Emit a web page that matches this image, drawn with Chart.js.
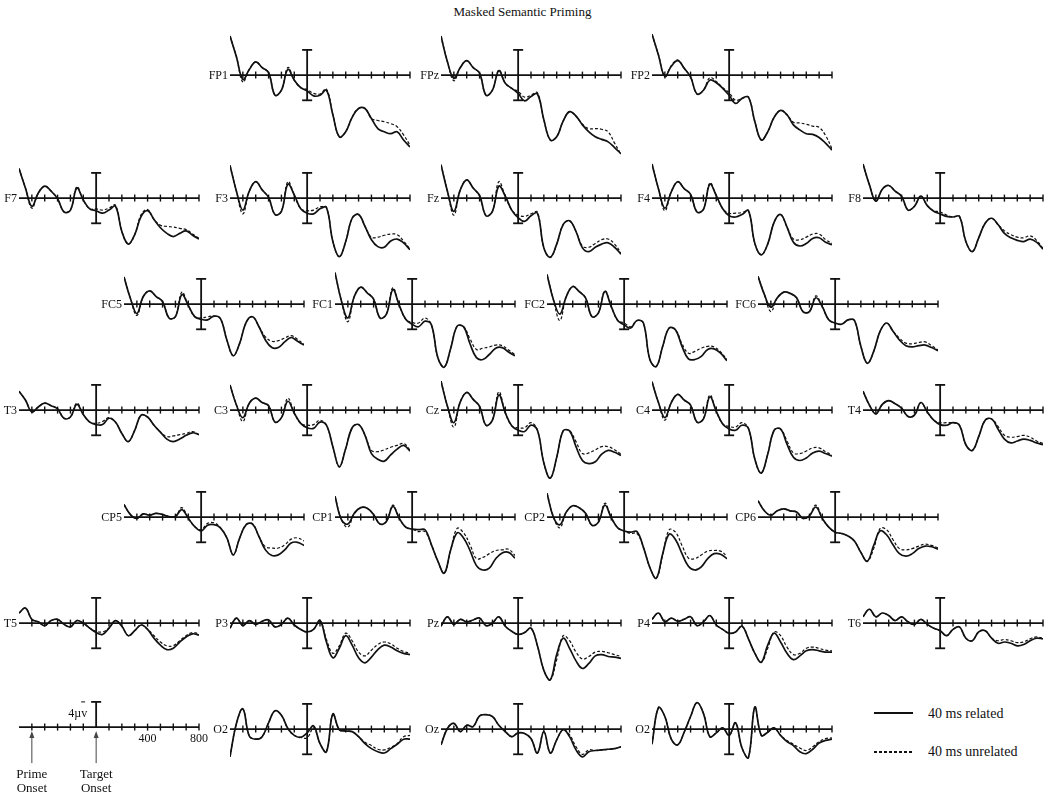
<!DOCTYPE html>
<html>
<head>
<meta charset="utf-8">
<script src="https://cdn.jsdelivr.net/npm/chart.js@4.4.1/dist/chart.umd.min.js"></script>
<style>
  html, body { margin: 0; padding: 0; background: #fff; }
  #page { position: relative; width: 1050px; height: 793px; overflow: hidden;
          font-family: "Liberation Serif", "DejaVu Serif", serif; color: #111; }
  #page canvas { position: absolute; }
  .lbl { position: absolute; width: 40px; font-size: 12px; line-height: 12px;
         text-align: right; white-space: nowrap; }
  #title { position: absolute; left: 0; width: 1045px; top: 4px; text-align: center; font-size: 13px; }
  .key { position: absolute; font-size: 14px; line-height: 14px; white-space: nowrap; }
  .swatch { position: absolute; width: 39px; height: 0; }
</style>
</head>
<body>
<div id="page">
  <div id="title">Masked Semantic Priming</div>
  <div class="swatch" style="left:874px; top:712px; border-top:2px solid #111;"></div>
  <div class="key" style="left:928px; top:707px;">40 ms related</div>
  <div class="swatch" style="left:874px; top:751px; height:1.5px;
       background:repeating-linear-gradient(90deg,#111 0 3px,transparent 3px 5px);"></div>
  <div class="key" style="left:928px; top:745px;">40 ms unrelated</div>
</div>
<script>
// sample times (ms) and axis ticks
const TIMES = [-600, -550, -500, -450, -400, -350, -300, -250, -200, -150, -100, -50, 0, 50, 100,
  150, 200, 250, 300, 350, 400, 450, 500, 550, 600, 650, 700, 750, 800];
const TICKS = [-500, -400, -300, -200, -100, 100, 200, 300, 400, 500, 600, 700, 800];
const SCALE_LABELS = [400, 800];
const BAR_UV = 4;

// amplitudes in microvolts, one value per sample time
const fp1Related = [6.2, 2.9, -0.7, 0.9, 2.1, 1.2, 0.4, -3.2, -2.4, 0.9, -0.8, -2.0, -2.5, -3.3, -3.2, -2.4, -6.3, -9.8, -9.0, -6.7, -5.3, -5.3, -6.9, -8.5, -9.0, -9.3, -9.0, -10.3, -11.4];
const fp1Unrelated = [6.2, 2.9, -1.1, 0.9, 2.1, 1.2, 0.4, -3.2, -2.4, 1.2, -0.8, -2.0, -2.3, -2.9, -3.0, -2.2, -6.3, -9.8, -9.0, -6.7, -5.3, -5.3, -6.9, -7.2, -7.4, -7.7, -8.2, -9.5, -11.1];
const fpzRelated = [6.2, 2.1, -0.5, 1.2, 2.3, 1.2, 0.3, -3.2, -2.4, 0.7, -1.3, -2.1, -2.9, -4.1, -3.4, -3.0, -7.1, -10.3, -9.8, -7.3, -5.8, -6.5, -7.9, -9.0, -9.8, -10.2, -10.6, -11.5, -12.5];
const fpzUnrelated = [6.2, 2.1, -0.9, 1.2, 2.3, 1.2, 0.3, -3.2, -2.4, 0.8, -1.3, -2.1, -2.6, -3.5, -3.2, -2.8, -7.1, -10.3, -9.8, -7.3, -5.8, -6.5, -7.8, -8.5, -8.5, -8.6, -9.0, -10.8, -12.6];
const fp2Related = [6.5, 3.2, -0.2, 1.4, 2.3, 1.1, -0.3, -3.0, -2.4, -0.8, -1.2, -2.1, -3.2, -4.5, -3.7, -3.5, -7.4, -10.3, -9.0, -6.7, -5.6, -6.3, -7.9, -8.7, -9.3, -9.4, -9.9, -10.8, -11.9];
const fp2Unrelated = [6.5, 3.2, -0.2, 1.5, 2.4, 1.1, -0.3, -3.0, -2.4, -0.4, -1.0, -2.0, -2.8, -4.0, -3.7, -3.5, -7.4, -10.3, -9.0, -6.7, -5.6, -6.3, -7.5, -7.6, -7.8, -8.1, -8.3, -9.6, -11.7];

const f7Related = [4.7, 1.6, -1.3, 0.8, 1.9, 1.1, -0.1, -2.2, -1.9, 1.6, -0.3, -1.7, -2.0, -2.4, -1.9, -1.3, -5.3, -7.3, -5.8, -2.9, -2.0, -3.4, -4.7, -5.6, -6.1, -5.6, -5.2, -5.9, -6.5];
const f7Unrelated = [4.7, 1.6, -1.6, 0.8, 1.9, 1.1, -0.1, -2.2, -1.9, 1.8, -0.3, -1.7, -1.7, -1.9, -1.6, -1.1, -5.3, -7.3, -5.8, -2.6, -1.8, -3.4, -4.3, -4.5, -4.6, -4.8, -5.0, -5.7, -6.4];
const f3Related = [5.2, 1.1, -1.9, 1.1, 2.6, 1.3, 0.1, -2.6, -2.1, 2.2, 0.5, -1.7, -2.4, -2.5, -1.7, -1.5, -6.9, -9.3, -6.9, -3.2, -2.6, -4.5, -6.6, -7.7, -7.8, -6.8, -6.5, -7.1, -8.2];
const f3Unrelated = [5.2, 1.1, -2.5, 1.1, 2.6, 1.3, 0.1, -2.6, -2.1, 2.6, 0.5, -1.7, -2.0, -1.9, -1.4, -1.5, -6.9, -9.3, -6.9, -3.2, -2.6, -4.5, -6.2, -6.2, -5.9, -5.7, -5.8, -6.8, -8.1];
const fzRelated = [5.3, 1.1, -2.1, 1.3, 2.9, 1.6, 0.4, -2.8, -2.1, 1.9, 0.3, -1.9, -3.1, -3.7, -2.8, -2.4, -7.9, -9.4, -7.3, -4.2, -3.6, -5.3, -7.9, -8.5, -7.8, -7.3, -7.1, -7.8, -8.9];
const fzUnrelated = [5.3, 1.1, -2.7, 1.3, 2.9, 1.6, 0.4, -2.8, -2.1, 2.6, 0.3, -1.9, -2.7, -2.9, -2.5, -2.2, -7.9, -9.4, -7.3, -4.2, -3.6, -5.3, -7.6, -7.8, -7.2, -6.6, -6.5, -7.3, -8.7];
const f4Related = [5.4, 1.5, -1.6, 1.0, 2.6, 1.5, 0.6, -2.2, -1.8, 2.2, 0.4, -1.7, -2.8, -3.0, -2.6, -2.0, -7.2, -9.0, -7.3, -3.8, -2.6, -4.6, -7.0, -7.6, -7.2, -6.4, -6.3, -7.0, -7.4];
const f4Unrelated = [5.4, 1.5, -2.0, 1.0, 2.6, 1.5, 0.6, -2.2, -1.8, 2.4, 0.4, -1.7, -2.4, -2.4, -2.3, -2.0, -7.2, -9.0, -7.3, -3.8, -2.6, -4.6, -6.5, -6.6, -6.2, -5.7, -5.7, -6.6, -7.2];
const f8Related = [5.4, 2.1, -0.5, 1.4, 2.0, 1.1, 0.3, -1.9, -1.3, 0.3, -1.2, -2.1, -2.5, -2.9, -3.0, -2.9, -6.9, -8.5, -6.3, -4.0, -3.2, -4.2, -5.6, -6.3, -6.7, -6.9, -6.5, -7.0, -8.1];
const f8Unrelated = [5.4, 2.1, -0.5, 1.4, 2.0, 1.1, 0.3, -1.9, -1.3, 0.3, -1.2, -2.0, -2.2, -2.7, -3.0, -2.9, -6.9, -8.5, -6.3, -4.0, -3.2, -4.2, -5.2, -5.8, -6.2, -6.3, -6.0, -6.7, -8.0];

const fc5Related = [4.3, 0.9, -1.5, 1.2, 2.1, 1.2, 0.4, -2.2, -2.0, 1.5, -0.2, -2.0, -2.4, -2.5, -1.9, -2.3, -5.7, -8.2, -6.2, -2.9, -2.0, -3.6, -5.7, -6.9, -6.9, -6.0, -5.3, -5.9, -6.5];
const fc5Unrelated = [4.3, 0.9, -1.8, 1.2, 2.1, 1.2, 0.4, -2.2, -2.0, 1.9, -0.2, -2.0, -2.2, -2.0, -1.9, -2.3, -5.7, -8.2, -6.2, -2.9, -2.0, -3.6, -5.2, -5.9, -5.8, -5.4, -5.0, -5.6, -6.4];
const fc1Related = [5.0, 0.5, -2.2, 1.2, 2.7, 1.8, 0.8, -2.2, -1.6, 2.3, -0.2, -2.4, -3.2, -3.6, -2.7, -3.3, -8.5, -10.0, -7.0, -3.5, -3.6, -6.3, -8.5, -8.8, -8.0, -7.0, -6.9, -7.6, -8.2];
const fc1Unrelated = [5.0, 0.5, -2.8, 1.2, 2.7, 1.8, 0.8, -2.2, -1.6, 2.6, -0.2, -2.4, -2.9, -3.0, -2.2, -3.3, -8.5, -10.0, -7.0, -3.5, -3.6, -5.5, -7.2, -7.0, -6.8, -6.5, -6.6, -7.3, -8.0];
const fc2Related = [4.7, 0.7, -1.6, 1.2, 2.8, 2.0, 1.0, -2.0, -1.4, 2.0, -0.4, -2.6, -3.3, -3.8, -2.6, -3.0, -8.8, -9.9, -6.7, -3.8, -4.1, -6.7, -8.7, -8.8, -8.3, -7.2, -7.1, -7.8, -9.0];
const fc2Unrelated = [4.7, 0.7, -2.6, 1.2, 2.8, 2.0, 1.0, -2.0, -1.4, 2.1, -0.4, -2.6, -3.0, -3.6, -2.6, -3.0, -8.8, -9.9, -6.7, -3.8, -4.1, -6.3, -7.8, -7.5, -7.0, -6.7, -6.8, -7.6, -8.8];
const fc6Related = [4.4, 1.5, -0.5, 1.0, 1.9, 1.7, 1.0, -1.2, -1.2, 1.0, -0.4, -2.5, -3.0, -3.2, -2.5, -2.6, -6.7, -9.4, -7.5, -4.3, -3.0, -4.3, -5.7, -6.6, -6.8, -6.6, -6.5, -6.9, -7.4];
const fc6Unrelated = [4.4, 1.5, -1.2, 1.0, 1.9, 1.7, 1.0, -1.2, -1.2, 1.3, -0.4, -2.5, -3.0, -3.2, -2.5, -2.6, -6.7, -9.4, -7.5, -4.3, -3.0, -4.3, -5.4, -6.2, -6.3, -6.1, -6.0, -6.6, -7.3];

const t3Related = [3.0, 1.6, -0.3, 0.5, 1.1, 0.7, 0.2, -1.3, -1.1, 0.9, -0.7, -1.9, -2.3, -2.3, -1.3, -1.9, -3.7, -5.0, -3.2, -0.8, -1.1, -2.4, -3.5, -4.6, -5.0, -4.6, -4.0, -3.6, -3.9];
const t3Unrelated = [3.0, 1.6, -0.3, 0.5, 1.1, 0.7, 0.2, -1.3, -1.1, 1.1, -0.7, -1.9, -2.1, -1.8, -1.2, -1.9, -3.7, -5.0, -3.2, -0.8, -1.1, -2.4, -3.5, -4.2, -4.1, -3.9, -3.7, -3.4, -3.9];
const c3Related = [4.0, 0.8, -1.2, 1.1, 1.9, 1.2, 0.7, -1.9, -1.2, 1.4, -0.5, -2.1, -2.8, -2.9, -1.9, -2.4, -5.8, -9.0, -6.1, -2.8, -2.3, -4.0, -6.9, -7.8, -8.1, -7.1, -6.2, -5.6, -6.5];
const c3Unrelated = [4.0, 0.8, -1.8, 1.1, 1.9, 1.2, 0.7, -1.9, -1.2, 1.9, -0.5, -2.1, -2.4, -2.3, -1.6, -2.4, -5.8, -9.0, -6.1, -2.8, -2.3, -4.0, -6.4, -6.6, -6.3, -5.9, -5.6, -5.3, -6.3];
const czRelated = [4.6, 0.6, -2.0, 1.3, 2.8, 1.7, 0.6, -2.4, -1.6, 2.4, -0.4, -2.5, -3.2, -3.4, -2.4, -3.2, -8.4, -10.8, -7.5, -3.3, -3.3, -5.8, -8.0, -8.5, -8.2, -7.0, -6.4, -6.7, -7.2];
const czUnrelated = [4.6, 0.6, -2.7, 1.3, 2.8, 1.7, 0.6, -2.4, -1.6, 2.9, -0.4, -2.5, -2.8, -2.8, -2.0, -3.2, -8.4, -10.8, -7.5, -3.3, -3.3, -5.0, -6.9, -6.8, -6.3, -5.8, -5.8, -6.3, -7.0];
const c4Related = [4.5, 1.2, -1.2, 1.2, 2.5, 1.6, 0.8, -1.9, -1.4, 2.1, -0.2, -2.2, -3.0, -3.2, -2.4, -2.9, -7.8, -10.0, -7.0, -3.2, -3.0, -5.4, -7.5, -8.0, -7.6, -6.8, -6.5, -6.9, -7.3];
const c4Unrelated = [4.5, 1.2, -1.6, 1.2, 2.5, 1.6, 0.8, -1.9, -1.4, 2.4, -0.2, -2.2, -2.6, -2.7, -2.0, -2.9, -7.8, -10.0, -7.0, -3.2, -3.0, -4.9, -6.8, -6.9, -6.5, -6.0, -6.0, -6.6, -7.1];
const t4Related = [3.0, 0.8, -0.6, 0.9, 1.5, 1.0, 0.3, -1.0, -0.8, 1.2, -0.3, -1.6, -2.3, -2.4, -2.0, -2.4, -5.5, -6.4, -4.2, -1.6, -1.4, -3.0, -4.6, -5.2, -4.9, -4.6, -4.8, -5.2, -5.5];
const t4Unrelated = [3.0, 0.8, -0.6, 0.9, 1.5, 1.0, 0.3, -1.0, -0.8, 1.2, -0.3, -1.6, -2.0, -2.0, -2.0, -2.4, -5.5, -6.4, -4.2, -1.6, -1.4, -2.6, -4.0, -4.3, -4.2, -4.0, -4.3, -4.9, -5.3];

const cp5Related = [2.0, 0.4, -0.2, 0.5, 0.3, 0.6, 0.4, 0.1, 0.1, 1.2, -0.2, -1.5, -2.2, -1.3, -1.2, -1.7, -3.3, -6.0, -3.3, -1.2, -1.1, -3.1, -5.2, -6.1, -6.0, -5.2, -4.1, -4.0, -4.5];
const cp5Unrelated = [2.0, 0.4, -0.2, 0.5, 0.3, 0.6, 0.4, 0.1, 0.1, 1.5, -0.2, -1.5, -2.0, -1.0, -0.9, -1.7, -3.3, -6.0, -3.3, -1.2, -1.1, -3.1, -4.7, -4.9, -4.9, -4.4, -3.5, -3.3, -3.8];
const cp1Related = [3.3, -0.4, -1.1, 0.6, 1.5, 1.4, 0.4, -1.1, -0.7, 1.7, -0.2, -1.6, -1.9, -2.0, -2.0, -4.4, -7.0, -8.9, -5.2, -2.5, -3.3, -5.3, -7.7, -8.4, -8.1, -6.6, -5.7, -5.6, -6.5];
const cp1Unrelated = [3.3, -0.4, -1.6, 0.6, 1.5, 1.4, 0.4, -1.1, -0.7, 1.9, -0.2, -1.6, -1.9, -2.3, -2.3, -4.4, -7.0, -8.9, -5.2, -1.8, -2.5, -4.4, -6.6, -6.4, -5.8, -5.3, -5.2, -5.1, -6.1];
const cp2Related = [3.8, 0.0, -1.2, 0.8, 1.8, 1.5, 0.6, -1.3, -0.8, 1.9, -0.1, -1.7, -2.2, -2.4, -2.3, -4.8, -8.0, -9.7, -5.8, -2.7, -3.6, -5.8, -7.8, -8.4, -7.9, -6.6, -5.8, -5.9, -6.6];
const cp2Unrelated = [3.8, 0.0, -1.7, 0.8, 1.8, 1.5, 0.6, -1.3, -0.8, 2.2, -0.1, -1.7, -2.2, -2.6, -2.6, -4.8, -8.0, -9.7, -6.0, -2.0, -2.4, -4.5, -6.5, -6.6, -6.0, -5.4, -5.3, -5.4, -6.2];
const cp6Related = [2.6, 1.0, 0.3, 1.0, 1.3, 1.0, 0.8, -0.2, 0.2, 1.6, -0.2, -1.6, -2.4, -2.6, -3.0, -3.8, -5.6, -7.0, -4.5, -2.2, -2.8, -4.4, -5.8, -6.2, -5.8, -5.0, -4.6, -4.7, -5.1];
const cp6Unrelated = [2.6, 1.0, 0.3, 1.0, 1.3, 1.0, 0.8, -0.2, 0.2, 1.9, -0.2, -1.6, -2.4, -2.6, -3.0, -3.8, -5.6, -7.0, -5.0, -1.8, -2.0, -3.6, -5.0, -5.2, -5.0, -4.6, -4.3, -4.5, -4.9];

const t5Related = [1.6, 2.4, 0.6, 0.2, -0.4, 0.4, 0.6, -0.2, -0.6, 0.4, 0.0, -0.8, -1.5, -1.8, -0.8, 0.4, -0.5, -2.0, -1.2, -0.3, -1.0, -2.4, -3.5, -4.2, -4.0, -3.0, -2.2, -1.7, -1.9];
const t5Unrelated = [1.6, 2.4, 0.6, 0.2, -0.4, 0.4, 0.6, -0.2, -0.6, 0.4, 0.0, -0.8, -1.3, -1.4, -0.8, 0.4, -0.5, -2.0, -1.2, -0.3, -1.0, -2.0, -3.0, -3.6, -3.6, -2.8, -2.0, -1.5, -1.7];
const p3Related = [-0.8, 0.8, -0.4, 0.4, -0.2, 0.3, 0.5, -0.6, -0.2, 0.8, -0.3, -1.0, -1.4, -1.0, 0.4, -3.0, -5.5, -4.0, -2.0, -3.5, -5.5, -6.3, -5.4, -4.2, -3.5, -3.8, -4.4, -4.8, -5.0];
const p3Unrelated = [-0.8, 0.8, -0.4, 0.4, -0.2, 0.3, 0.5, -0.6, -0.2, 0.8, -0.3, -1.0, -1.4, -1.0, 0.4, -2.6, -4.8, -3.6, -1.6, -2.8, -4.6, -5.2, -4.3, -3.4, -3.0, -3.3, -4.0, -4.5, -4.8];
const pzRelated = [-0.5, 1.0, -0.2, 0.6, 0.2, 0.5, 0.8, -0.4, 0.0, 1.0, -0.5, -1.3, -1.8, -1.5, -0.8, -3.6, -7.5, -9.0, -5.0, -2.4, -4.0, -6.0, -7.2, -6.4, -5.2, -5.0, -5.3, -5.4, -5.6];
const pzUnrelated = [-0.5, 1.0, -0.2, 0.6, 0.2, 0.5, 0.8, -0.4, 0.0, 1.0, -0.5, -1.3, -1.8, -1.5, -0.8, -3.6, -7.5, -9.0, -5.8, -2.0, -2.8, -4.6, -5.7, -5.3, -4.6, -4.5, -4.7, -5.0, -5.3];
const p4Related = [0.6, 1.6, 0.2, 0.8, 0.3, 0.6, 1.0, -0.4, 0.2, 1.2, -0.3, -1.0, -1.6, -1.4, -0.5, -2.5, -4.8, -6.2, -3.5, -1.6, -3.0, -4.8, -5.8, -5.2, -4.4, -4.2, -4.4, -4.6, -4.6];
const p4Unrelated = [0.6, 1.6, 0.2, 0.8, 0.3, 0.6, 1.0, -0.4, 0.2, 1.2, -0.3, -1.0, -1.6, -1.4, -0.5, -2.5, -4.8, -6.2, -4.0, -1.4, -2.0, -3.8, -5.0, -4.8, -4.0, -3.8, -4.0, -4.3, -4.4];
const t6Related = [1.0, 2.2, 1.0, 1.6, 1.2, 0.4, 1.0, 0.2, -0.2, 0.6, -0.2, -0.8, -1.2, -2.0, -1.0, -0.6, -2.4, -2.8, -1.4, -1.2, -2.4, -3.2, -3.0, -3.2, -3.6, -3.4, -2.8, -2.4, -2.5];
const t6Unrelated = [1.0, 2.2, 1.0, 1.6, 1.2, 0.4, 1.0, 0.2, -0.2, 0.6, -0.2, -0.8, -1.2, -2.0, -1.0, -0.6, -2.4, -2.8, -1.4, -1.2, -2.4, -2.8, -2.6, -2.8, -3.1, -3.0, -2.5, -2.2, -2.4];

const o1Related = [-4.4, 0.9, 3.2, -1.1, -1.6, -1.2, 1.0, 2.9, 2.2, 0.1, -1.0, -1.3, -0.6, 0.5, -2.3, -3.6, 2.4, -0.1, -0.3, -0.4, -1.2, -2.3, -3.1, -3.6, -3.8, -3.1, -2.4, -1.6, -1.6];
const o1Unrelated = [-4.4, 0.9, 3.2, -1.1, -1.6, -1.2, 1.0, 2.9, 2.2, 0.1, -1.0, -1.3, -1.4, 0.2, -2.3, -3.6, 2.4, -0.1, -0.3, -0.4, -1.2, -2.1, -2.6, -3.2, -3.3, -2.9, -2.3, -1.2, -1.0];
const ozRelated = [-2.5, 0.1, 0.9, -0.4, 0.6, 0.4, 2.1, 2.3, 2.0, 0.6, -0.4, -1.2, -0.6, -0.7, -1.5, -3.8, -0.4, -3.8, -1.7, -0.1, -1.2, -3.3, -4.4, -3.6, -3.4, -3.3, -3.2, -3.1, -2.8];
const ozUnrelated = [-2.5, 0.1, 0.9, -0.4, 0.6, 0.4, 2.1, 2.3, 2.0, 0.6, -0.4, -1.2, -0.6, -0.7, -1.5, -3.8, -0.4, -3.8, -1.7, -0.1, -0.9, -2.8, -4.0, -3.3, -3.4, -3.3, -3.2, -3.1, -2.8];
const o2Related = [-2.4, 3.4, 2.0, -1.6, -2.5, -0.5, 2.0, 4.2, 2.5, -1.2, -0.6, 0.2, -1.0, 1.0, -3.0, -4.5, 3.5, -1.0, -0.5, 0.2, -1.0, -2.0, -2.6, -3.6, -3.9, -3.2, -2.2, -1.8, -1.6];
const o2Unrelated = [-2.4, 3.4, 2.0, -1.6, -2.5, -0.5, 2.0, 4.2, 2.5, -1.2, -0.6, 0.2, -1.0, 1.0, -3.0, -4.5, 3.5, -1.0, -0.5, 0.2, -1.0, -1.8, -2.4, -3.0, -3.4, -2.8, -2.0, -1.5, -1.4];

// layout: onset x per column, zero line y per row
const COLS = { A: 96, AB: 201, B: 307, BC: 412, C: 518, CD: 624, D: 729, DE: 835, E: 940 };
const ROWS = [75, 198, 304, 410, 517, 623, 729];

const PANELS = [
  { label: "FP1", col: "B", row: 0, rel: fp1Related, unrel: fp1Unrelated },
  { label: "FPz", col: "C", row: 0, rel: fpzRelated, unrel: fpzUnrelated },
  { label: "FP2", col: "D", row: 0, rel: fp2Related, unrel: fp2Unrelated },
  { label: "F7", col: "A", row: 1, rel: f7Related, unrel: f7Unrelated },
  { label: "F3", col: "B", row: 1, rel: f3Related, unrel: f3Unrelated },
  { label: "Fz", col: "C", row: 1, rel: fzRelated, unrel: fzUnrelated },
  { label: "F4", col: "D", row: 1, rel: f4Related, unrel: f4Unrelated },
  { label: "F8", col: "E", row: 1, rel: f8Related, unrel: f8Unrelated },
  { label: "FC5", col: "AB", row: 2, rel: fc5Related, unrel: fc5Unrelated },
  { label: "FC1", col: "BC", row: 2, rel: fc1Related, unrel: fc1Unrelated },
  { label: "FC2", col: "CD", row: 2, rel: fc2Related, unrel: fc2Unrelated },
  { label: "FC6", col: "DE", row: 2, rel: fc6Related, unrel: fc6Unrelated },
  { label: "T3", col: "A", row: 3, rel: t3Related, unrel: t3Unrelated },
  { label: "C3", col: "B", row: 3, rel: c3Related, unrel: c3Unrelated },
  { label: "Cz", col: "C", row: 3, rel: czRelated, unrel: czUnrelated },
  { label: "C4", col: "D", row: 3, rel: c4Related, unrel: c4Unrelated },
  { label: "T4", col: "E", row: 3, rel: t4Related, unrel: t4Unrelated },
  { label: "CP5", col: "AB", row: 4, rel: cp5Related, unrel: cp5Unrelated },
  { label: "CP1", col: "BC", row: 4, rel: cp1Related, unrel: cp1Unrelated },
  { label: "CP2", col: "CD", row: 4, rel: cp2Related, unrel: cp2Unrelated },
  { label: "CP6", col: "DE", row: 4, rel: cp6Related, unrel: cp6Unrelated },
  { label: "T5", col: "A", row: 5, rel: t5Related, unrel: t5Unrelated },
  { label: "P3", col: "B", row: 5, rel: p3Related, unrel: p3Unrelated },
  { label: "Pz", col: "C", row: 5, rel: pzRelated, unrel: pzUnrelated },
  { label: "P4", col: "D", row: 5, rel: p4Related, unrel: p4Unrelated },
  { label: "T6", col: "E", row: 5, rel: t6Related, unrel: t6Unrelated },
  { label: "O2", col: "B", row: 6, rel: o1Related, unrel: o1Unrelated },
  { label: "Oz", col: "C", row: 6, rel: ozRelated, unrel: ozUnrelated },
  { label: "O2", col: "D", row: 6, rel: o2Related, unrel: o2Unrelated },
];

const X_MIN = -600, X_MAX = 800, Y_MIN = -13, Y_MAX = 7;
const PX_MS = 180 / (X_MAX - X_MIN);
const PX_UV = 6.3;
const PAD = 14;
const INK = "#111";
const SERIF = '"Liberation Serif", "DejaVu Serif", serif';

const page = document.getElementById("page");

function line(ctx, x1, y1, x2, y2) {
  ctx.beginPath();
  ctx.moveTo(x1, y1);
  ctx.lineTo(x2, y2);
  ctx.stroke();
}

// zero line, ticks and calibration bar, drawn through the chart scales
const erpAxis = {
  id: "erpAxis",
  beforeDatasetsDraw(chart, args, opts) {
    const { ctx, scales: { x, y } } = chart;
    const y0 = y.getPixelForValue(0);
    const x0 = x.getPixelForValue(0);
    ctx.save();
    ctx.strokeStyle = INK;
    ctx.lineWidth = 1.8;
    line(ctx, x.getPixelForValue(X_MIN), y0, x.getPixelForValue(X_MAX), y0);
    ctx.lineWidth = 1.4;
    TICKS.forEach((t) => {
      const tx = x.getPixelForValue(t);
      line(ctx, tx, y0 - 3.5, tx, y0 + 3.5);
    });
    ctx.lineWidth = 1.8;
    const top = y.getPixelForValue(BAR_UV);
    const bottom = opts.scaleKey ? y0 : y.getPixelForValue(-BAR_UV);
    line(ctx, x0, top, x0, bottom);
    line(ctx, x0 - 5, top, x0 + 5, top);
    if (!opts.scaleKey) {
      line(ctx, x0 - 5, bottom, x0 + 5, bottom);
    } else {
      ctx.lineWidth = 1;
      line(ctx, x0 - 15, top, x0 - 11, top);
      ctx.fillStyle = INK;
      ctx.font = "12px " + SERIF;
      ctx.textAlign = "right";
      ctx.textBaseline = "middle";
      ctx.fillText("4\u00b5v", x0 - 9, y.getPixelForValue(BAR_UV / 2) - 1);
      ctx.textAlign = "center";
      ctx.textBaseline = "top";
      SCALE_LABELS.forEach((t) => ctx.fillText(String(t), x.getPixelForValue(t), y0 + 6));
      ctx.font = "13px " + SERIF;
      [[-500, "Prime"], [0, "Target"]].forEach(([t, word]) => {
        const ax = x.getPixelForValue(t);
        ctx.strokeStyle = "#444";
        ctx.fillStyle = "#444";
        ctx.lineWidth = 1;
        line(ctx, ax, y0 + 9, ax, y0 + 36);
        ctx.beginPath();
        ctx.moveTo(ax, y0 + 4);
        ctx.lineTo(ax - 2.5, y0 + 11);
        ctx.lineTo(ax + 2.5, y0 + 11);
        ctx.closePath();
        ctx.fill();
        ctx.fillStyle = INK;
        ctx.fillText(word, ax, y0 + 41);
        ctx.fillText("Onset", ax, y0 + 55);
      });
    }
    ctx.restore();
  },
};

function placeCanvas(col, row) {
  const canvas = document.createElement("canvas");
  canvas.width = Math.round((X_MAX - X_MIN) * PX_MS) + 2 * PAD;
  canvas.height = Math.round((Y_MAX - Y_MIN) * PX_UV) + 2 * PAD;
  canvas.style.left = Math.round(COLS[col] + X_MIN * PX_MS - PAD) + "px";
  canvas.style.top = Math.round(ROWS[row] - Y_MAX * PX_UV - PAD) + "px";
  page.appendChild(canvas);
  return canvas;
}

function baseOptions(scaleKey) {
  return {
    responsive: false,
    animation: false,
    devicePixelRatio: 1,
    layout: { padding: PAD },
    elements: { point: { radius: 0 } },
    plugins: { legend: { display: false }, tooltip: { enabled: false }, erpAxis: { scaleKey } },
    scales: {
      x: { type: "linear", min: X_MIN, max: X_MAX, display: false },
      y: { type: "linear", min: Y_MIN, max: Y_MAX, display: false },
    },
  };
}

function series(values) {
  return TIMES.map((t, i) => ({ x: t, y: values[i] }));
}

function renderPanel(p) {
  const canvas = placeCanvas(p.col, p.row);
  new Chart(canvas, {
    type: "line",
    data: {
      datasets: [
        { label: "40 ms unrelated", data: series(p.unrel), borderColor: INK, borderWidth: 1.2,
          borderDash: [3, 2], tension: 0.4, fill: false },
        { label: "40 ms related", data: series(p.rel), borderColor: INK, borderWidth: 1.7,
          tension: 0.4, fill: false },
      ],
    },
    options: baseOptions(false),
    plugins: [erpAxis],
  });
  const lbl = document.createElement("div");
  lbl.className = "lbl";
  lbl.textContent = p.label;
  lbl.style.left = Math.round(COLS[p.col] + X_MIN * PX_MS - 42) + "px";
  lbl.style.top = ROWS[p.row] - 6 + "px";
  page.appendChild(lbl);
}

function renderScaleKey() {
  const canvas = placeCanvas("A", 6);
  canvas.style.top = parseInt(canvas.style.top, 10) - 2 + "px";
  new Chart(canvas, {
    type: "line",
    data: { datasets: [] },
    options: baseOptions(true),
    plugins: [erpAxis],
  });
}

renderScaleKey();
PANELS.forEach(renderPanel);
</script>
</body>
</html>
